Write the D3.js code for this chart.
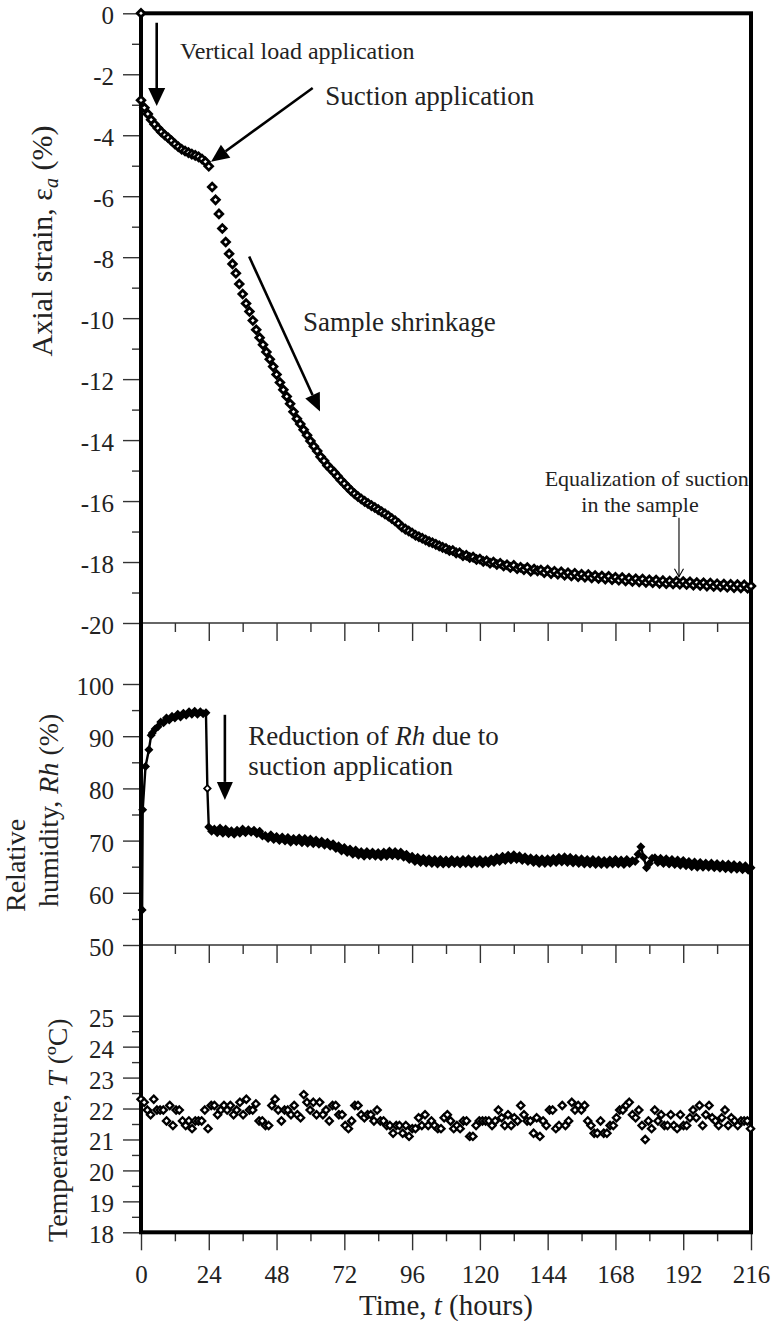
<!DOCTYPE html>
<meta charset="utf-8">
<style>
  body { margin: 0; background: #fff; }
  text { font-family: "Liberation Serif", "Times New Roman", serif !important; fill: #222; }
  .tick line { stroke: #333; stroke-width: 1.4; }
  .tick text { font-size: 25px; }
  .note { font-size: 27px; }
  .title { font-size: 28px; }
</style>
<body>
<script src="https://cdnjs.cloudflare.com/ajax/libs/d3/7.8.5/d3.min.js"></script>
<script>

// ---- data ----
var hourTicks = [0, 24, 48, 72, 96, 120, 144, 168, 192, 216];
var hourMinor = [12, 36, 60, 84, 108, 132, 156, 180, 204];

var strainTicks = [0, -2, -4, -6, -8, -10, -12, -14, -16, -18, -20];
var strainMinor = [-1, -3, -5, -7, -9, -11, -13, -15, -17, -19];
var rhTicks = [50, 60, 70, 80, 90, 100];
var rhMinor = [55, 65, 75, 85, 95];
var tempTicks = [18, 19, 20, 21, 22, 23, 24, 25];
var tempMinor = [18.5, 19.5, 20.5, 21.5, 22.5, 23.5, 24.5];

// axial strain (%), one reading every 1.2 h from t = 0
var strainOrigin = [0, 0];   // [hours, strain] before the vertical load
var strainStep = 1.2;
var strainValues = [
  -2.85, -3.10, -3.30, -3.49, -3.64, -3.77, -3.89, -3.99, -4.08, -4.18,
  -4.29, -4.38, -4.46, -4.52, -4.57, -4.62, -4.66, -4.71, -4.78, -4.87,
  -5.02, -5.70, -6.12, -6.58, -7.06, -7.50, -7.89, -8.22, -8.53, -8.88,
  -9.21, -9.52, -9.78, -10.08, -10.38, -10.64, -10.87, -11.11, -11.35, -11.59,
  -11.85, -12.11, -12.35, -12.57, -12.81, -13.07, -13.30, -13.47, -13.66, -13.84,
  -14.03, -14.20, -14.36, -14.55, -14.68, -14.83, -14.95, -15.06, -15.19, -15.32,
  -15.43, -15.55, -15.66, -15.76, -15.85, -15.93, -16.01, -16.08, -16.15, -16.21,
  -16.28, -16.35, -16.42, -16.49, -16.57, -16.65, -16.74, -16.85, -16.92, -16.98,
  -17.05, -17.12, -17.17, -17.22, -17.28, -17.33, -17.37, -17.42, -17.47, -17.52,
  -17.56, -17.62, -17.62, -17.70, -17.70, -17.79, -17.78, -17.85, -17.84, -17.92,
  -17.90, -17.98, -17.96, -18.04, -18.00, -18.08, -18.04, -18.13, -18.09, -18.18,
  -18.11, -18.22, -18.17, -18.25, -18.18, -18.30, -18.23, -18.29, -18.26, -18.35,
  -18.26, -18.38, -18.30, -18.40, -18.32, -18.43, -18.35, -18.46, -18.37, -18.48,
  -18.40, -18.50, -18.41, -18.52, -18.44, -18.54, -18.46, -18.56, -18.47, -18.58,
  -18.50, -18.60, -18.51, -18.62, -18.53, -18.64, -18.55, -18.65, -18.56, -18.67,
  -18.58, -18.68, -18.59, -18.70, -18.61, -18.71, -18.62, -18.72, -18.63, -18.73,
  -18.64, -18.74, -18.65, -18.76, -18.67, -18.77, -18.68, -18.79, -18.69, -18.80,
  -18.71, -18.81, -18.72, -18.83, -18.73, -18.84, -18.74, -18.85, -18.75, -18.86,
  -18.79
];

// relative humidity (%)
var rhEarlyHours = [0.4, 0.6, 1.6, 2.8, 3.6];
var rhEarlyValues = [56.7, 75.9, 84.2, 87.4, 90.2];
var rhRiseStart = 4;   // hourly from 4 h to 23 h
var rhRiseValues = [
  90.6, 91.4, 91.8, 92.7, 92.6, 93.5, 93.1, 93.8, 93.5, 94.2,
  93.7, 94.4, 94.0, 94.7, 94.2, 94.8, 94.2, 94.7, 94.3, 94.5
];
var rhDropPoint = [23.5, 80.0];
var rhHourlyStart = 24;   // hourly from 24 h to 216 h
var rhHourlyValues = [
  72.6, 71.8, 72.2, 71.5, 72.4, 71.4, 72.2, 71.3, 71.9, 71.2,
  72.0, 71.4, 72.2, 71.5, 72.1, 71.6, 72.0, 71.3, 71.8, 70.9,
  71.0, 70.4, 71.1, 70.2, 70.8, 70.0, 70.7, 69.9, 70.6, 69.7,
  70.4, 69.8, 70.5, 69.6, 70.4, 69.5, 70.3, 69.4, 70.1, 69.3,
  69.9, 69.1, 69.7, 68.9, 69.4, 68.5, 69.0, 68.0, 68.7, 67.7,
  68.4, 67.4, 68.2, 67.2, 67.9, 67.0, 67.9, 67.1, 67.8, 67.0,
  67.7, 66.9, 67.8, 67.0, 68.0, 67.1, 67.9, 67.0, 67.8, 66.8,
  67.4, 66.4, 67.0, 66.0, 66.8, 65.8, 66.6, 65.7, 66.5, 65.6,
  66.4, 65.5, 66.4, 65.5, 66.3, 65.5, 66.4, 65.6, 66.3, 65.5,
  66.4, 65.6, 66.5, 65.5, 66.3, 65.6, 66.4, 65.5, 66.3, 65.6,
  66.5, 65.8, 66.8, 66.0, 67.0, 66.2, 67.2, 66.3, 67.3, 66.4,
  67.1, 66.2, 66.9, 66.0, 66.7, 65.8, 66.6, 65.6, 66.5, 65.6,
  66.5, 65.7, 66.6, 65.8, 66.8, 65.9, 66.9, 65.8, 66.8, 65.7,
  66.6, 65.6, 66.5, 65.5, 66.4, 65.5, 66.4, 65.4, 66.3, 65.4,
  66.2, 65.4, 66.3, 65.5, 66.4, 65.5, 66.3, 65.4, 66.4, 65.6,
  66.2, 66.0, 67.4, 68.8, 66.8, 64.8, 65.6, 66.6, 66.7, 65.8,
  66.6, 65.6, 66.5, 65.5, 66.4, 65.4, 66.3, 65.3, 66.2, 65.2,
  66.0, 65.0, 65.9, 64.9, 65.8, 64.9, 65.7, 64.9, 65.7, 64.8,
  65.6, 64.7, 65.5, 64.6, 65.5, 64.5, 65.4, 64.5, 65.3, 64.4,
  65.2, 64.3, 64.8
];

// temperature (deg C), one reading every 1.13 h from t = 0
var tempStep = 1.13;
var tempValues = [
  22.3, 22.2, 21.95, 21.8, 22.3, 21.95, 21.95, 21.95, 21.6, 22.1,
  21.45, 21.95, 21.95, 21.6, 21.45, 21.6, 21.35, 21.6, 21.6, 21.6,
  21.95, 21.35, 22.1, 22.1, 21.8, 21.95, 22.1, 21.95, 22.1, 21.8,
  21.95, 22.2, 21.8, 22.3, 21.95, 21.95, 22.15, 21.6, 21.6, 21.45,
  21.45, 22.1, 22.3, 21.95, 21.6, 21.95, 21.95, 21.8, 22.1, 21.8,
  21.7, 22.45, 22.2, 21.95, 22.2, 21.8, 22.2, 21.8, 21.95, 21.6,
  22.1, 22.1, 21.8, 21.8, 21.45, 21.35, 21.6, 22.1, 22.1, 21.8,
  21.7, 21.8, 21.8, 21.6, 21.95, 21.6, 21.6, 21.45, 21.45, 21.2,
  21.45, 21.45, 21.2, 21.45, 21.1, 21.35, 21.35, 21.7, 21.45, 21.8,
  21.45, 21.6, 21.45, 21.35, 21.35, 21.7, 21.8, 21.6, 21.35, 21.45,
  21.35, 21.6, 21.6, 21.1, 21.1, 21.45, 21.6, 21.6, 21.6, 21.6,
  21.45, 21.6, 21.95, 21.7, 21.45, 21.8, 21.45, 21.7, 21.6, 22.1,
  21.8, 21.6, 21.6, 21.2, 21.7, 21.1, 21.6, 21.45, 21.95, 21.95,
  21.35, 21.45, 22.1, 21.45, 21.6, 22.2, 21.95, 22.1, 21.95, 22.1,
  21.6, 21.45, 21.2, 21.2, 21.6, 21.2, 21.2, 21.45, 21.45, 21.7,
  21.95, 21.95, 22.1, 22.2, 21.8, 21.7, 21.95, 21.45, 21.0, 21.6,
  21.35, 21.95, 21.6, 21.8, 21.45, 21.45, 21.8, 21.45, 21.35, 21.8,
  21.45, 21.45, 21.7, 21.95, 21.7, 22.1, 21.45, 21.8, 22.1, 21.7,
  21.6, 21.45, 21.7, 21.95, 21.45, 21.7, 21.6, 21.45, 21.6, 21.6,
  21.6, 21.35
];

// ---- layout ----
var svg = d3.select("body").append("svg")
        .attr("width", 774)
        .attr("height", 1321);

var x = d3.scaleLinear().domain([0, 216]).range([141, 751]);
var yS = d3.scaleLinear().domain([0, -20]).range([13.3, 623]);
var yR = d3.scaleLinear().domain([50, 100]).range([945, 684]);
var yT = d3.scaleLinear().domain([18, 25]).range([1232.3, 1015.7]);

function diamond(r) {
    return "M0," + (-r) + "L" + r + ",0L0," + r + "L" + (-r) + ",0Z";
}

function leftAxis(scale, major, minor) {
    var g = svg.append("g").attr("transform", "translate(141,0)");
    g.append("g").call(d3.axisLeft(scale).tickValues(minor).tickSize(9).tickFormat(""));
    g.append("g").call(d3.axisLeft(scale).tickValues(major).tickSize(18).tickPadding(9)
            .tickFormat(function(d) { return String(d); }));
    g.selectAll(".domain").remove();
    g.selectAll(".tick text").attr("dy", "0.42em");
}

function timeTicks(yPos, labels) {
    var g = svg.append("g").attr("transform", "translate(0," + yPos + ")");
    g.append("g").call(d3.axisBottom(x).tickValues(hourMinor).tickSize(9).tickFormat(""));
    g.append("g").call(d3.axisBottom(x).tickValues(hourTicks).tickSize(18).tickPadding(15)
            .tickFormat(labels ? function(d) { return String(d); } : ""));
    g.selectAll(".domain").remove();
}

leftAxis(yS, strainTicks, strainMinor);
leftAxis(yR, rhTicks, rhMinor);
leftAxis(yT, tempTicks, tempMinor);

timeTicks(yS(-20), false);
timeTicks(yR(50), false);
timeTicks(yT(18), true);

// thin panel separators
[yS(-20), yR(50)].forEach(function(yy) {
    svg.append("line")
            .attr("x1", x(0)).attr("x2", x(216))
            .attr("y1", yy).attr("y2", yy)
            .attr("stroke", "#333").attr("stroke-width", 1.4);
});

// heavy frame
svg.append("rect")
        .attr("x", x(0)).attr("y", yS(0))
        .attr("width", x(216) - x(0))
        .attr("height", yT(18) - yS(0))
        .attr("fill", "none")
        .attr("stroke", "#000")
        .attr("stroke-width", 4);

// ---- axial strain ----
var strainPts = [strainOrigin].concat(strainValues.map(function(v, i) { return [i * strainStep, v]; }));

svg.append("g").selectAll("path")
        .data(strainPts)
        .join("path")
        .attr("transform", function(d) { return "translate(" + x(d[0]) + "," + yS(d[1]) + ")"; })
        .attr("d", diamond(3.8))
        .attr("fill", "#fff")
        .attr("stroke", "#000")
        .attr("stroke-width", 2.8);

// ---- relative humidity ----
var rhPts = rhEarlyHours.map(function(h, i) { return [h, rhEarlyValues[i]]; })
        .concat(rhRiseValues.map(function(v, i) { return [rhRiseStart + i, v]; }))
        .concat([rhDropPoint])
        .concat(rhHourlyValues.map(function(v, i) { return [rhHourlyStart + i, v]; }));

svg.append("path")
        .datum(rhPts)
        .attr("fill", "none")
        .attr("stroke", "#000")
        .attr("stroke-width", 2.4)
        .attr("d", d3.line().x(function(d) { return x(d[0]); }).y(function(d) { return yR(d[1]); }));

svg.append("g").selectAll("path")
        .data(rhPts)
        .join("path")
        .attr("transform", function(d) { return "translate(" + x(d[0]) + "," + yR(d[1]) + ")"; })
        .attr("d", diamond(3.3))
        .attr("fill", function(d) { return d === rhDropPoint ? "#fff" : "#000"; })
        .attr("stroke", "#000")
        .attr("stroke-width", 1.7);

// ---- temperature ----
svg.append("g").selectAll("path")
        .data(tempValues)
        .join("path")
        .attr("transform", function(d, i) { return "translate(" + x(i * tempStep) + "," + yT(d) + ")"; })
        .attr("d", diamond(3.6))
        .attr("fill", "#fff")
        .attr("stroke", "#000")
        .attr("stroke-width", 2.3);

// ---- annotations ----
function arrow(x1, y1, x2, y2, width, headLen, headW) {
    var dx = x2 - x1, dy = y2 - y1, L = Math.sqrt(dx * dx + dy * dy);
    var ux = dx / L, uy = dy / L;
    var bx = x2 - ux * headLen, by = y2 - uy * headLen;
    svg.append("line")
            .attr("x1", x1).attr("y1", y1).attr("x2", bx).attr("y2", by)
            .attr("stroke", "#000").attr("stroke-width", width);
    svg.append("path")
            .attr("d", "M" + x2 + "," + y2 +
                    "L" + (bx - uy * headW / 2) + "," + (by + ux * headW / 2) +
                    "L" + (bx + uy * headW / 2) + "," + (by - ux * headW / 2) + "Z")
            .attr("fill", "#000");
}

arrow(x(5.56), yS(-0.31), x(5.56), yS(-3.04), 2.6, 18, 17);
arrow(x(60.8), yS(-2.45), x(24.8), yS(-4.87), 2.6, 18, 16);
arrow(x(38.3), yS(-7.98), x(63.4), yS(-13.06), 2.6, 18, 16);
arrow(x(29.7), yR(94.1), x(29.7), yR(77.8), 2.6, 18, 16);

// thin arrow with open head
(function() {
    var ax = x(190.5), y1 = yS(-16.55), y2 = yS(-18.48);
    svg.append("line").attr("x1", ax).attr("x2", ax).attr("y1", y1).attr("y2", y2)
            .attr("stroke", "#000").attr("stroke-width", 1.1);
    svg.append("path")
            .attr("d", "M" + (ax - 4.5) + "," + (y2 - 8) + "L" + ax + "," + y2 + "L" + (ax + 4.5) + "," + (y2 - 8))
            .attr("fill", "none").attr("stroke", "#000").attr("stroke-width", 1.1);
})();

function note(t, v, scale, parts, size, anchor) {
    var txt = svg.append("text").attr("class", "note")
            .attr("x", x(t)).attr("y", scale(v));
    if (size) txt.style("font-size", size + "px");
    if (anchor) txt.attr("text-anchor", anchor);
    parts.forEach(function(p) {
        var s = txt.append("tspan").text(p[0]);
        if (p[1]) s.attr("font-style", "italic");
    });
}

note(13.8, -1.5, yS, [["Vertical load application"]], 24);
note(65.2, -3.01, yS, [["Suction application"]]);
note(57.4, -10.42, yS, [["Sample shrinkage"]]);
note(215.2, -15.5, yS, [["Equalization of suction"]], 22, "end");
note(176.7, -16.35, yS, [["in the sample"]], 22, "middle");
note(38, 88.3, yR, [["Reduction of "], ["Rh", true], [" due to"]]);
note(38, 82.6, yR, [["suction application"]]);

// ---- axis titles ----
var t1 = svg.append("text").attr("class", "title")
        .attr("transform", "translate(52,241) rotate(-90)")
        .attr("text-anchor", "middle")
        .style("font-size", "30px");
t1.append("tspan").text("Axial strain, \u03b5");
t1.append("tspan").text("a").attr("font-style", "italic").attr("font-size", "20px").attr("dy", "6");
t1.append("tspan").text(" (%)").attr("dy", "-6");

svg.append("text").attr("class", "title")
        .attr("transform", "translate(25,912) rotate(-90)")
        .text("Relative");
var t2 = svg.append("text").attr("class", "title")
        .attr("transform", "translate(58,907) rotate(-90)");
t2.append("tspan").text("humidity, ");
t2.append("tspan").text("Rh").attr("font-style", "italic");
t2.append("tspan").text(" (%)");

var t3 = svg.append("text").attr("class", "title")
        .attr("transform", "translate(67,1242) rotate(-90)");
t3.append("tspan").text("Temperature, ");
t3.append("tspan").text("T").attr("font-style", "italic");
t3.append("tspan").text(" (\u00baC)");

var t4 = svg.append("text").attr("class", "title")
        .attr("x", 446).attr("y", 1315)
        .attr("text-anchor", "middle")
        .style("font-size", "29px");
t4.append("tspan").text("Time, ");
t4.append("tspan").text("t").attr("font-style", "italic");
t4.append("tspan").text(" (hours)");

</script>
